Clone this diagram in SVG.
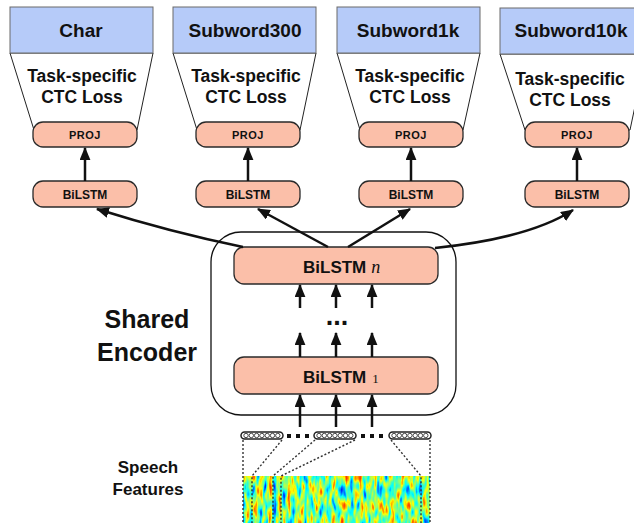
<svg xmlns="http://www.w3.org/2000/svg" width="634" height="523" viewBox="0 0 634 523">
<style>
.lbl{fill:#b6cbf9;stroke:#6a6a6a;stroke-width:1}
.trap{fill:#fff;stroke:#222;stroke-width:1}
.sal{fill:#fbbfa9;stroke:#2a2a2a;stroke-width:1.3}
.t{font-family:"Liberation Sans",Arial,sans-serif;font-weight:bold;fill:#111;text-anchor:middle}
.ts{text-anchor:start}
.big{font-size:19px}
.task{font-size:17.5px}
.proj{font-size:11px;letter-spacing:0.5px}
.bil{font-size:12px}
.arr{fill:none;stroke:#111;stroke-width:2.5}
.dash{fill:none;stroke:#333;stroke-width:1.4;stroke-dasharray:2 2}
.vec{fill:#fff;stroke:#222;stroke-width:1.5}
.vc{fill:#fff;stroke:#333;stroke-width:0.9}
</style>
<defs>
<marker id="ah" markerUnits="userSpaceOnUse" markerWidth="13" markerHeight="11" refX="11" refY="5" orient="auto" viewBox="0 0 12 10">
<path d="M0,0 L12,5 L0,10 z" fill="#111"/>
</marker>
<filter id="jet" x="0" y="0" width="1" height="1" color-interpolation-filters="sRGB">
<feTurbulence type="fractalNoise" baseFrequency="0.22 0.06" numOctaves="2" seed="11"/>
<feColorMatrix type="matrix" values="1 0 0 0 0 1 0 0 0 0 1 0 0 0 0 0 0 0 0 1"/>
<feComponentTransfer>
<feFuncR type="linear" slope="0.98" intercept="0.02"/>
<feFuncG type="linear" slope="0.98" intercept="0.02"/>
<feFuncB type="linear" slope="0.98" intercept="0.02"/>
</feComponentTransfer>
<feComponentTransfer>
<feFuncR type="table" tableValues="0 0 0 0 0.5 1 1 1 0.5"/>
<feFuncG type="table" tableValues="0 0 0.5 1 1 1 0.5 0 0"/>
<feFuncB type="table" tableValues="0.5 1 1 1 0.5 0 0 0 0"/>
</feComponentTransfer>
</filter>
<g id="vecshape">
<rect class="vec" x="0" y="0" width="42" height="7" rx="3.5"/>
<circle class="vc" cx="5" cy="3.5" r="2.2"/>
<circle class="vc" cx="10.3" cy="3.5" r="2.2"/>
<circle class="vc" cx="15.6" cy="3.5" r="2.2"/>
<circle class="vc" cx="20.9" cy="3.5" r="2.2"/>
<circle class="vc" cx="26.2" cy="3.5" r="2.2"/>
<circle class="vc" cx="31.5" cy="3.5" r="2.2"/>
<circle class="vc" cx="36.8" cy="3.5" r="2.2"/>
</g>
</defs>
<rect width="634" height="523" fill="#fff"/>

<g id="head-char">
<polygon class="trap" points="10,53 153,53 137,130 34,130"/>
<rect class="lbl" x="10" y="7" width="143" height="46"/>
<text class="t big" x="81" y="37">Char</text>
<text class="t task" x="82" y="82">Task-specific</text>
<text class="t task" x="82" y="103">CTC Loss</text>
<rect id="proj-char" class="sal" x="33" y="122" width="104" height="25" rx="10"/>
<text class="t proj" x="85" y="139">PROJ</text>
</g>
<g id="head-sw300">
<polygon class="trap" points="173,53 316,53 300,130 197,130"/>
<rect class="lbl" x="173" y="7" width="143" height="46"/>
<text class="t big" x="245" y="37">Subword300</text>
<text class="t task" x="246" y="82">Task-specific</text>
<text class="t task" x="246" y="103">CTC Loss</text>
<rect class="sal" x="196" y="122" width="104" height="25" rx="10"/>
<text class="t proj" x="248" y="139">PROJ</text>
</g>
<g id="head-sw1k">
<polygon class="trap" points="337,53 480,53 463,130 360,130"/>
<rect class="lbl" x="337" y="7" width="143" height="46"/>
<text class="t big" x="408" y="37">Subword1k</text>
<text class="t task" x="410" y="82">Task-specific</text>
<text class="t task" x="410" y="103">CTC Loss</text>
<rect class="sal" x="359" y="122" width="104" height="25" rx="10"/>
<text class="t proj" x="411" y="139">PROJ</text>
</g>
<g id="head-sw10k">
<polygon class="trap" points="500,54 646,54 630,130 525,130"/>
<rect class="lbl" x="500" y="8" width="146" height="46"/>
<text class="t big" x="571" y="37">Subword10k</text>
<text class="t task" x="570" y="85">Task-specific</text>
<text class="t task" x="570" y="106">CTC Loss</text>
<rect class="sal" x="525" y="122" width="104" height="25" rx="10"/>
<text class="t proj" x="577" y="139">PROJ</text>
</g>

<g id="bilstm-char"><rect class="sal" x="33" y="181" width="104" height="26" rx="10"/><text class="t bil" x="85" y="199">BiLSTM</text></g>
<g id="bilstm-sw300"><rect class="sal" x="196" y="181" width="104" height="26" rx="10"/><text class="t bil" x="248" y="199">BiLSTM</text></g>
<g id="bilstm-sw1k"><rect class="sal" x="359" y="181" width="104" height="26" rx="10"/><text class="t bil" x="411" y="199">BiLSTM</text></g>
<g id="bilstm-sw10k"><rect class="sal" x="525" y="181" width="104" height="26" rx="10"/><text class="t bil" x="577" y="199">BiLSTM</text></g>

<g id="shared-encoder">
<rect x="211" y="232" width="245" height="183" rx="30" fill="none" stroke="#111" stroke-width="1.3"/>
<text class="t" x="147" y="328" font-size="25">Shared</text>
<text class="t" x="147" y="361" font-size="25">Encoder</text>
</g>
<g id="bilstm-n">
<rect class="sal" x="234" y="247" width="204" height="37" rx="10"/>
<text class="t ts" x="303" y="273" font-size="17">BiLSTM<tspan dx="5" font-family="'Liberation Serif',serif" font-style="italic" font-weight="normal" font-size="18">n</tspan></text>
</g>
<g id="bilstm-1">
<rect class="sal" x="234" y="357" width="204" height="37" rx="10"/>
<text class="t ts" x="303" y="383" font-size="17">BiLSTM<tspan dx="6" font-family="'Liberation Serif',serif" font-weight="normal" font-size="13">1</tspan></text>
</g>
<text class="t" x="337" y="325" font-size="27">...</text>

<g id="speech-features">
<text class="t" x="148" y="473" font-size="17">Speech</text>
<text class="t" x="148" y="495" font-size="17">Features</text>
<rect x="243" y="476" width="187" height="47" fill="#7f7" filter="url(#jet)"/>
<use href="#vecshape" x="241" y="432"/>
<use href="#vecshape" x="314" y="432"/>
<use href="#vecshape" x="389" y="432"/>
<rect x="287" y="434" width="4" height="4" fill="#111"/>
<rect x="296" y="434" width="4" height="4" fill="#111"/>
<rect x="305" y="434" width="4" height="4" fill="#111"/>
<rect x="361" y="434" width="4" height="4" fill="#111"/>
<rect x="370" y="434" width="4" height="4" fill="#111"/>
<rect x="379" y="434" width="4" height="4" fill="#111"/>
<path class="dash" d="M243,440 V523 M282,440 L252,476 V523 M315,440 L273,476 V523 M355,440 L281,476 V523 M391,440 L421,476 V523 M430,440 V523"/>
</g>

<g id="connectors">
<line class="arr" x1="85" y1="181" x2="85" y2="148" marker-end="url(#ah)"/>
<line class="arr" x1="248" y1="181" x2="248" y2="148" marker-end="url(#ah)"/>
<line class="arr" x1="411" y1="181" x2="411" y2="148" marker-end="url(#ah)"/>
<line class="arr" x1="577" y1="181" x2="577" y2="148" marker-end="url(#ah)"/>
<path class="arr" d="M243,247 Q170,232 97,209" marker-end="url(#ah)"/>
<path class="arr" d="M328,247 L258,209" marker-end="url(#ah)"/>
<path class="arr" d="M348,247 L410,209" marker-end="url(#ah)"/>
<path class="arr" d="M435,248 Q530,238 573,210" marker-end="url(#ah)"/>
<line class="arr" x1="300" y1="308" x2="300" y2="285" marker-end="url(#ah)"/>
<line class="arr" x1="336" y1="308" x2="336" y2="285" marker-end="url(#ah)"/>
<line class="arr" x1="372" y1="308" x2="372" y2="285" marker-end="url(#ah)"/>
<line class="arr" x1="300" y1="357" x2="300" y2="333" marker-end="url(#ah)"/>
<line class="arr" x1="336" y1="357" x2="336" y2="333" marker-end="url(#ah)"/>
<line class="arr" x1="372" y1="357" x2="372" y2="333" marker-end="url(#ah)"/>
<line class="arr" x1="300" y1="427" x2="300" y2="395" marker-end="url(#ah)"/>
<line class="arr" x1="336" y1="427" x2="336" y2="395" marker-end="url(#ah)"/>
<line class="arr" x1="372" y1="427" x2="372" y2="395" marker-end="url(#ah)"/>
</g>
</svg>
